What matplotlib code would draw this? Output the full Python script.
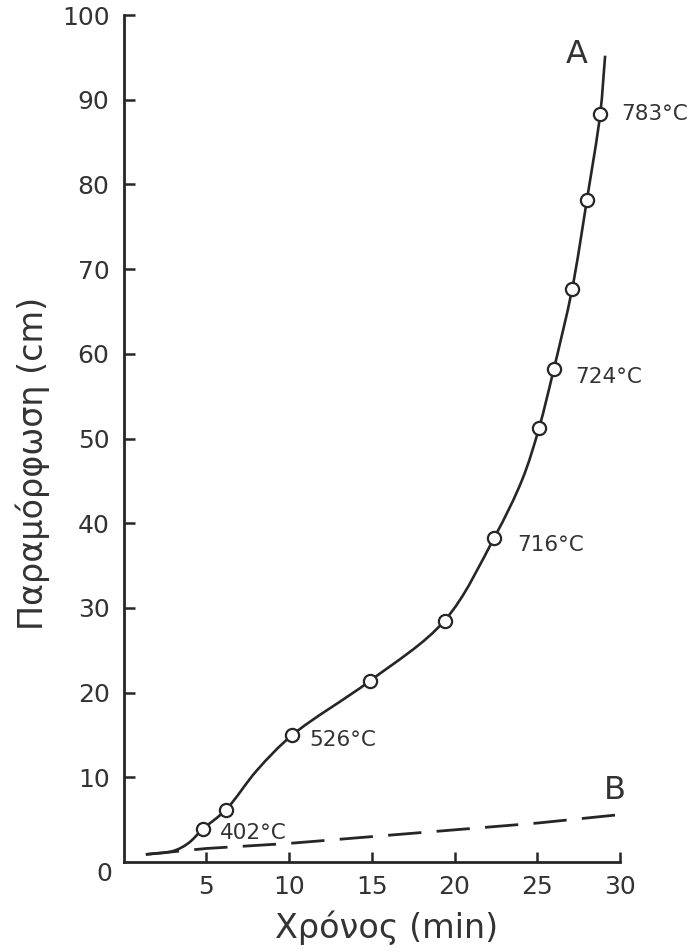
import matplotlib
matplotlib.use("Agg")
import matplotlib.pyplot as plt
from matplotlib.path import Path
from matplotlib.patches import PathPatch
import numpy as np

plt.rcParams['font.family'] = ['DejaVu Sans']

# Curve A
A_curve_x = [1.35, 3.0, 3.9, 4.8, 6.2, 8.05, 10.2, 14.9, 19.4, 22.4, 24.1, 25.1, 26.0, 27.1, 28.0, 28.8, 29.1]
A_curve_y = [0.9, 1.3, 2.2, 3.9, 6.2, 10.8, 15.0, 21.4, 28.5, 38.3, 45.2, 51.2, 58.2, 67.6, 78.2, 88.3, 95.2]

# Measured points (open circles)
pts_x = [4.8, 6.2, 10.2, 14.9, 19.4, 22.4, 25.1, 26.0, 27.1, 28.0, 28.8]
pts_y = [3.9, 6.2, 15.0, 21.4, 28.5, 38.3, 51.2, 58.2, 67.6, 78.2, 88.3]

# Curve B (dashed)
B_x = [1.35, 5, 10, 15, 20, 25, 30]
B_y = [0.9, 1.6, 2.2, 3.0, 3.8, 4.6, 5.6]

# Temperature labels
temp_labels = ["402°C", "526°C", "716°C", "724°C", "783°C"]
temp_x = [5.85, 11.2, 23.8, 27.3, 30.1]
temp_y = [3.4, 14.4, 37.4, 57.3, 88.3]

x_ticks = [5, 10, 15, 20, 25, 30]
y_ticks = [10, 20, 30, 40, 50, 60, 70, 80, 90, 100]

ink = '#262626'
txt = '#333333'

fig = plt.figure(figsize=(6.9, 9.52), dpi=100)
ax = fig.add_axes([0.179, 0.0945, 0.7196, 0.8897])
ax.set_xlim(0, 30)
ax.set_ylim(0, 100)

def smooth_path(xs, ys, sx=16.55, sy=8.45, alpha=0.5):
    # centripetal Catmull-Rom rendered as cubic Bezier segments
    P = np.column_stack([np.asarray(xs) * sx, np.asarray(ys) * sy])
    n = len(P)
    verts = [P[0]]
    codes = [Path.MOVETO]
    for i in range(n - 1):
        p1, p2 = P[i], P[i + 1]
        p0 = P[i - 1] if i > 0 else 2 * p1 - p2
        p3 = P[i + 2] if i + 2 < n else 2 * p2 - p1
        d0 = max(np.linalg.norm(p1 - p0) ** alpha, 1e-6)
        d1 = max(np.linalg.norm(p2 - p1) ** alpha, 1e-6)
        d2 = max(np.linalg.norm(p3 - p2) ** alpha, 1e-6)
        m1 = d1 * ((p1 - p0) / d0 - (p2 - p0) / (d0 + d1) + (p2 - p1) / d1)
        m2 = d1 * ((p2 - p1) / d1 - (p3 - p1) / (d1 + d2) + (p3 - p2) / d2)
        c1 = p1 + m1 / 3.0
        c2 = p2 - m2 / 3.0
        verts += [c1, c2, p2]
        codes += [Path.CURVE4] * 3
    V = np.array(verts)
    V[:, 0] /= sx
    V[:, 1] /= sy
    return Path(V, codes)

ax.add_patch(PathPatch(smooth_path(A_curve_x, A_curve_y), facecolor='none',
                       edgecolor=ink, lw=1.9, zorder=3, capstyle='butt'))
ax.plot(pts_x, pts_y, linestyle='none', marker='o', markersize=9.5,
        markerfacecolor='white', markeredgecolor=ink, markeredgewidth=1.6, zorder=4)
ax.plot(B_x, B_y, color=ink, lw=2.0, dashes=(12, 5.5), zorder=3)

for lab, x, y in zip(temp_labels, temp_x, temp_y):
    ax.text(x, y, lab, ha='left', va='center', fontsize=15.5, color=txt, clip_on=False)

ax.text(27.4, 95.4, "A", ha='center', va='center', fontsize=23, color=txt)
ax.text(29.7, 8.4, "B", ha='center', va='center', fontsize=23, color=txt)

for s in ['top', 'right']:
    ax.spines[s].set_visible(False)
for s in ['left', 'bottom']:
    ax.spines[s].set_linewidth(2.0)
    ax.spines[s].set_color(ink)

ax.set_xticks(x_ticks)
ax.set_yticks(y_ticks)
ax.tick_params(axis='x', direction='in', length=7, width=1.8, color=ink,
               labelsize=18, labelcolor=txt, pad=9)
ax.tick_params(axis='y', direction='in', length=8, width=1.8, color=ink,
               labelsize=18, labelcolor=txt, pad=10)
ax.text(-0.7, -1.4, "0", ha='right', va='center', fontsize=18, color=txt, clip_on=False)

ax.set_xlabel("Χρόνος (min)", fontsize=24, color=txt)
ax.xaxis.set_label_coords(0.529, -0.077)
ax.xaxis.label.set_va('center')
ax.set_ylabel("Παραμόρφωση (cm)", fontsize=24, color=txt)
ax.yaxis.set_label_coords(-0.148, 0.471)

fig.savefig("out.png", dpi=100)
